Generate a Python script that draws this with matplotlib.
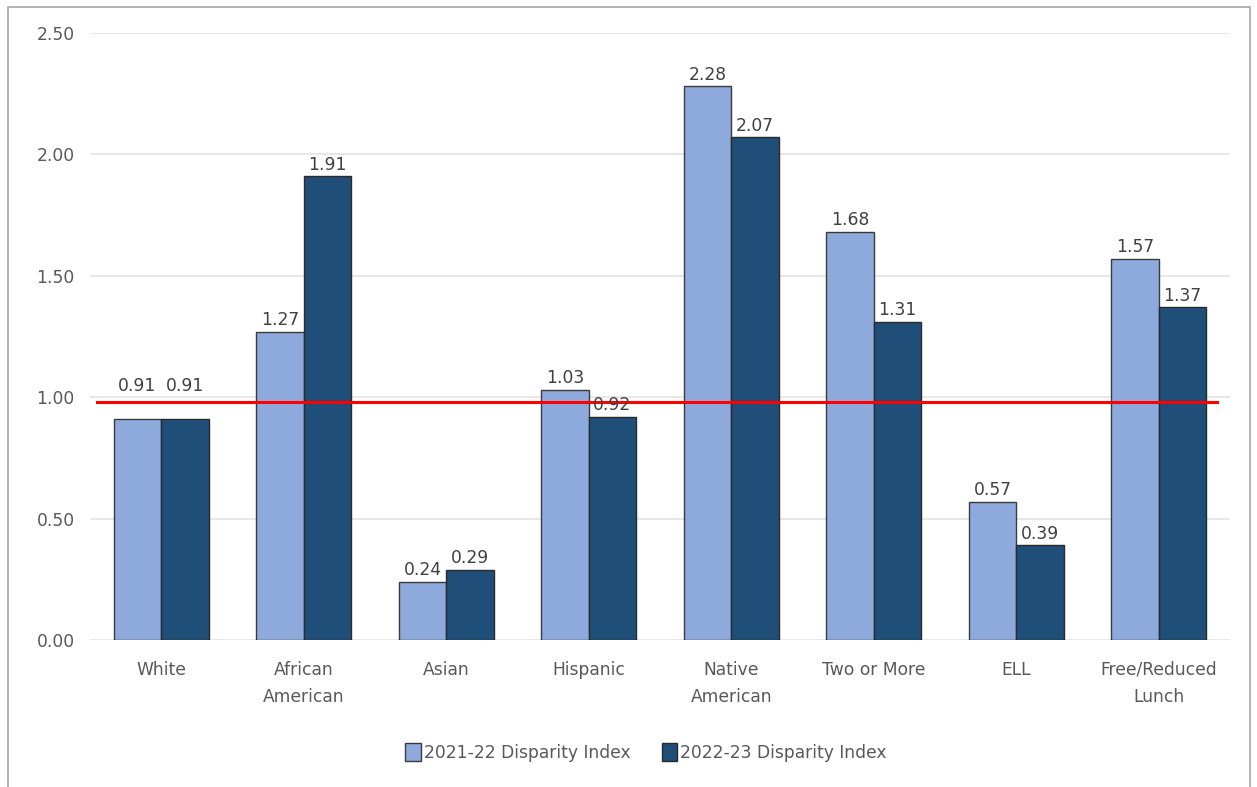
import numpy as np
import matplotlib.pyplot as plt
from matplotlib.patches import Rectangle

categories = ['White', 'African\nAmerican', 'Asian', 'Hispanic', 'Native\nAmerican',
              'Two or More', 'ELL', 'Free/Reduced\nLunch']
idx_2122 = [0.91, 1.27, 0.24, 1.03, 2.28, 1.68, 0.57, 1.57]
idx_2223 = [0.91, 1.91, 0.29, 0.92, 2.07, 1.31, 0.39, 1.37]
series_labels = ['2021-22 Disparity Index', '2022-23 Disparity Index']
ref_value = 0.98

plt.rcParams['font.family'] = ['DejaVu Sans']
txt = '#595959'
fs = 12.3

fig = plt.figure(figsize=(12.57, 7.87), dpi=100)
ax = fig.add_axes([0.0716, 0.1868, 0.9069, 0.7712])

x = np.arange(len(categories))
w = 1 / 3
b1 = ax.bar(x - w / 2, idx_2122, w, color='#8EA9DB', edgecolor='#3a3a3a', linewidth=1,
            label=series_labels[0], zorder=3)
b2 = ax.bar(x + w / 2, idx_2223, w, color='#1F4E79', edgecolor='#2a2a2a', linewidth=1,
            label=series_labels[1], zorder=3)
# the White labels sit above the reference line in the original
pads = [17, 2, 2, 2, 2, 2, 2, 2]
for bars in (b1, b2):
    for rect, pad in zip(bars, pads):
        h = rect.get_height()
        ax.annotate('%.2f' % h, (rect.get_x() + rect.get_width() / 2, h),
                    xytext=(0, pad), textcoords='offset points', ha='center', va='bottom',
                    fontsize=fs, color='#404040', zorder=5)

ax.axhline(ref_value, xmin=0.006, xmax=0.989, color='#FF0000', linewidth=2.2, zorder=4)

ax.set_xlim(-0.5, len(categories) - 0.5)
ax.set_ylim(0, 2.5)
ax.set_yticks(np.arange(0, 2.51, 0.5))
ax.set_yticklabels(['%.2f' % v for v in np.arange(0, 2.51, 0.5)])
ax.set_xticks(x)
ax.set_xticklabels(categories, linespacing=1.65)
ax.tick_params(axis='both', length=0, labelsize=fs, labelcolor=txt)
ax.tick_params(axis='x', pad=15)
ax.tick_params(axis='y', pad=11)
ax.grid(axis='y', color='#e3e3e3', linewidth=1.2, zorder=0)
for s in ax.spines.values():
    s.set_visible(False)

fig.legend(loc='center', bbox_to_anchor=(0.514, 0.044), ncol=2, frameon=False,
           fontsize=fs, handlelength=0.9, handleheight=1.2, handletextpad=0.2,
           columnspacing=1.8, labelcolor=txt)

fig.patches.append(Rectangle((8 / 1257, -0.05), 1242 / 1257, 1.05 - 7 / 787,
                             transform=fig.transFigure, fill=False,
                             edgecolor='#a6a6a6', linewidth=1.2))

fig.savefig('out.png', dpi=100)
